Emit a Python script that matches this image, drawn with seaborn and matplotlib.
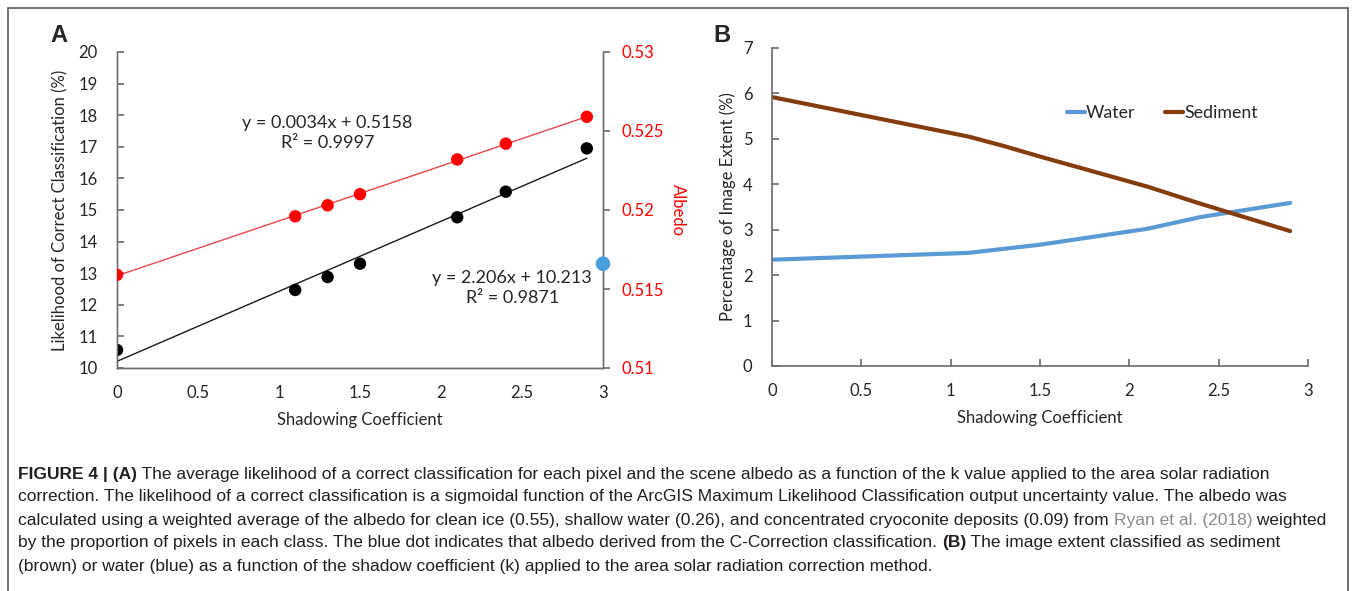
import numpy as np
import pandas as pd
import seaborn as sns
import matplotlib.pyplot as plt
from matplotlib import font_manager

# Panel A data
k_vals = [0, 1.1, 1.3, 1.5, 2.1, 2.4, 2.9]
likelihood = [10.57, 12.47, 12.88, 13.30, 14.77, 15.58, 16.95]
albedo = [0.5159, 0.5196, 0.5203, 0.5210, 0.5232, 0.5242, 0.5259]
c_corr_k = [3.0]
c_corr_albedo = [0.5166]

# Panel B data
water = [2.34, 2.49, 2.58, 2.67, 3.02, 3.28, 3.59]
sediment = [5.92, 5.05, 4.84, 4.61, 3.95, 3.57, 2.97]

eq_albedo = "y = 0.0034x + 0.5158\nR² = 0.9997"
eq_like = "y = 2.206x + 10.213\nR² = 0.9871"

sns.set_theme(style="white")
plt.rcParams['font.family'] = ['Lato', 'DejaVu Sans']

W, H = 1355, 591
fig = plt.figure(figsize=(W / 100, H / 100), dpi=100)

def frac(x0, y_top, x1, y_bot):
    return [x0 / W, 1 - y_bot / H, (x1 - x0) / W, (y_bot - y_top) / H]

spine_col = '#6e6e6e'
txt_col = '#262626'
fs = 12

# ---------------- Panel A ----------------
df_a = pd.DataFrame({'k': k_vals, 'likelihood': likelihood, 'albedo': albedo})
ax1 = fig.add_axes(frac(117, 52, 603, 368))
ax2 = ax1.twinx()

sns.regplot(data=df_a, x='k', y='likelihood', ax=ax1, ci=None, scatter=False,
            line_kws=dict(color='#1a1a1a', lw=1))
sns.scatterplot(data=df_a, x='k', y='likelihood', ax=ax1, color='black', s=80,
                edgecolor='none', zorder=3)
sns.regplot(data=df_a, x='k', y='albedo', ax=ax2, ci=None, scatter=False,
            line_kws=dict(color='#e8474a', lw=1))
sns.scatterplot(data=df_a, x='k', y='albedo', ax=ax2, color='#ff0000', s=80,
                edgecolor='none', zorder=3)
sns.scatterplot(x=c_corr_k, y=c_corr_albedo, ax=ax2, color='#4a9fdc', s=110,
                edgecolor='none', zorder=4, clip_on=False)

ax1.set_xlim(0, 3)
ax1.set_ylim(10, 20)
ax2.set_ylim(0.51, 0.53)
ax1.set_xticks(np.arange(0, 3.01, 0.5))
ax1.set_xticklabels(['0', '0.5', '1', '1.5', '2', '2.5', '3'])
ax1.set_yticks(range(10, 21))
ax2.set_yticks([0.51, 0.515, 0.52, 0.525, 0.53])
ax2.set_yticklabels(['0.51', '0.515', '0.52', '0.525', '0.53'])

ax1.set_xlabel('Shadowing Coefficient', fontsize=fs, color=txt_col, labelpad=8)
ax1.set_ylabel('Likelihood of Correct Classification (%)', fontsize=fs,
               color=txt_col, labelpad=7)
ax2.set_ylabel('Albedo', fontsize=fs, color='#ff0000', rotation=-90, labelpad=16)

for s in ['top']:
    ax1.spines[s].set_visible(False)
    ax2.spines[s].set_visible(False)
for a in (ax1, ax2):
    for s in ['left', 'bottom', 'right']:
        a.spines[s].set_color(spine_col)
        a.spines[s].set_linewidth(1)
ax1.tick_params(axis='x', direction='in', length=5, color=spine_col,
                labelsize=fs, labelcolor=txt_col, pad=12)
ax1.tick_params(axis='y', direction='in', length=5, color=spine_col,
                labelsize=fs, labelcolor=txt_col, left=True, pad=14)
ax2.tick_params(axis='y', direction='out', length=5, color=spine_col,
                labelsize=fs, labelcolor='#ff0000', right=True, pad=8)
ax1.text(1.30, 17.44, eq_albedo, ha='center', va='center', fontsize=13,
         color=txt_col, linespacing=1.25)
ax1.text(2.44, 12.53, eq_like, ha='center', va='center', fontsize=13,
         color=txt_col, linespacing=1.25)

# ---------------- Panel B ----------------
df_b = pd.DataFrame({'k': k_vals * 2,
                     'pct': water + sediment,
                     'cls': ['Water'] * len(k_vals) + ['Sediment'] * len(k_vals)})
ax3 = fig.add_axes(frac(772, 48, 1308, 366))
sns.lineplot(data=df_b, x='k', y='pct', hue='cls', ax=ax3,
             palette={'Water': '#5b9bd5', 'Sediment': '#843c0c'}, lw=3)
ax3.set_xlim(0, 3)
ax3.set_ylim(0, 7)
ax3.set_xticks(np.arange(0, 3.01, 0.5))
ax3.set_xticklabels(['0', '0.5', '1', '1.5', '2', '2.5', '3'])
ax3.set_yticks(range(0, 8))
ax3.set_xlabel('Shadowing Coefficient', fontsize=fs, color=txt_col, labelpad=8)
ax3.set_ylabel('Percentage of Image Extent (%)', fontsize=fs, color=txt_col, labelpad=5)
for s in ['top', 'right']:
    ax3.spines[s].set_visible(False)
for s in ['left', 'bottom']:
    ax3.spines[s].set_color(spine_col)
ax3.tick_params(axis='x', direction='in', length=5, color=spine_col,
                labelsize=fs, labelcolor=txt_col, pad=12, bottom=True)
ax3.tick_params(axis='y', direction='in', length=5, color=spine_col,
                labelsize=fs, labelcolor=txt_col, pad=14, left=True)
leg = ax3.legend(loc='center', bbox_to_anchor=(0.728, 0.796), ncol=2, frameon=False,
                 handlelength=1.0, handletextpad=0.05, columnspacing=1.7,
                 fontsize=12.8)
for t in leg.get_texts():
    t.set_color(txt_col)

# panel letters
fig.text(50 / W, 1 - 36 / H, 'A', fontsize=17, fontweight='bold', va='center',
         family=['Liberation Sans', 'DejaVu Sans'])
fig.text(713 / W, 1 - 36 / H, 'B', fontsize=17, fontweight='bold', va='center',
         family=['Liberation Sans', 'DejaVu Sans'])

# frame around figure
fig.add_artist(plt.Rectangle((8 / W, -0.02), 1340 / W, 1 - 8 / H + 0.02,
                             fill=False, ec='#5a5a5a', lw=1.2,
                             transform=fig.transFigure))

# ---------------- caption ----------------
names = {f.name for f in font_manager.fontManager.ttflist}
cap_font = 'Liberation Sans Narrow' if 'Liberation Sans Narrow' in names else 'Liberation Sans'
dark = '#231f20'
cap_lines = [
    [("FIGURE 4 | (A)", 'bold', dark),
     (" The average likelihood of a correct classification for each pixel and the scene albedo as a function of the k value applied to the area solar radiation", 'normal', dark)],
    [("correction. The likelihood of a correct classification is a sigmoidal function of the ArcGIS Maximum Likelihood Classification output uncertainty value. The albedo was", 'normal', dark)],
    [("calculated using a weighted average of the albedo for clean ice (0.55), shallow water (0.26), and concentrated cryoconite deposits (0.09) from ", 'normal', dark),
     ("Ryan et al. (2018)", 'normal', '#8c8c8c'),
     (" weighted", 'normal', dark)],
    [("by the proportion of pixels in each class. The blue dot indicates that albedo derived from the C-Correction classification. ", 'normal', dark),
     ("(B)", 'bold', dark),
     (" The image extent classified as sediment", 'normal', dark)],
    [("(brown) or water (blue) as a function of the shadow coefficient (k) applied to the area solar radiation correction method.", 'normal', dark)],
]
renderer = fig.canvas.get_renderer()

def line_width(line, size):
    total = 0
    for txt, wt, col in line:
        t = fig.text(0, 0, txt, fontsize=size, fontweight=wt, family=[cap_font])
        total += t.get_window_extent(renderer).width
        t.remove()
    return total

# pick size so the widest line ends about 1330 px
widest = max(line_width(l, 10) for l in cap_lines)
cap_fs = 10 * 1312 / widest

y_px = 474
for line in cap_lines:
    x_px = 18
    for txt, wt, col in line:
        t = fig.text(x_px / W, 1 - y_px / H, txt, fontsize=cap_fs, fontweight=wt,
                     color=col, va='center', ha='left', family=[cap_font])
        x_px += t.get_window_extent(renderer).width
    y_px += 23

fig.savefig('out.png', dpi=100)
